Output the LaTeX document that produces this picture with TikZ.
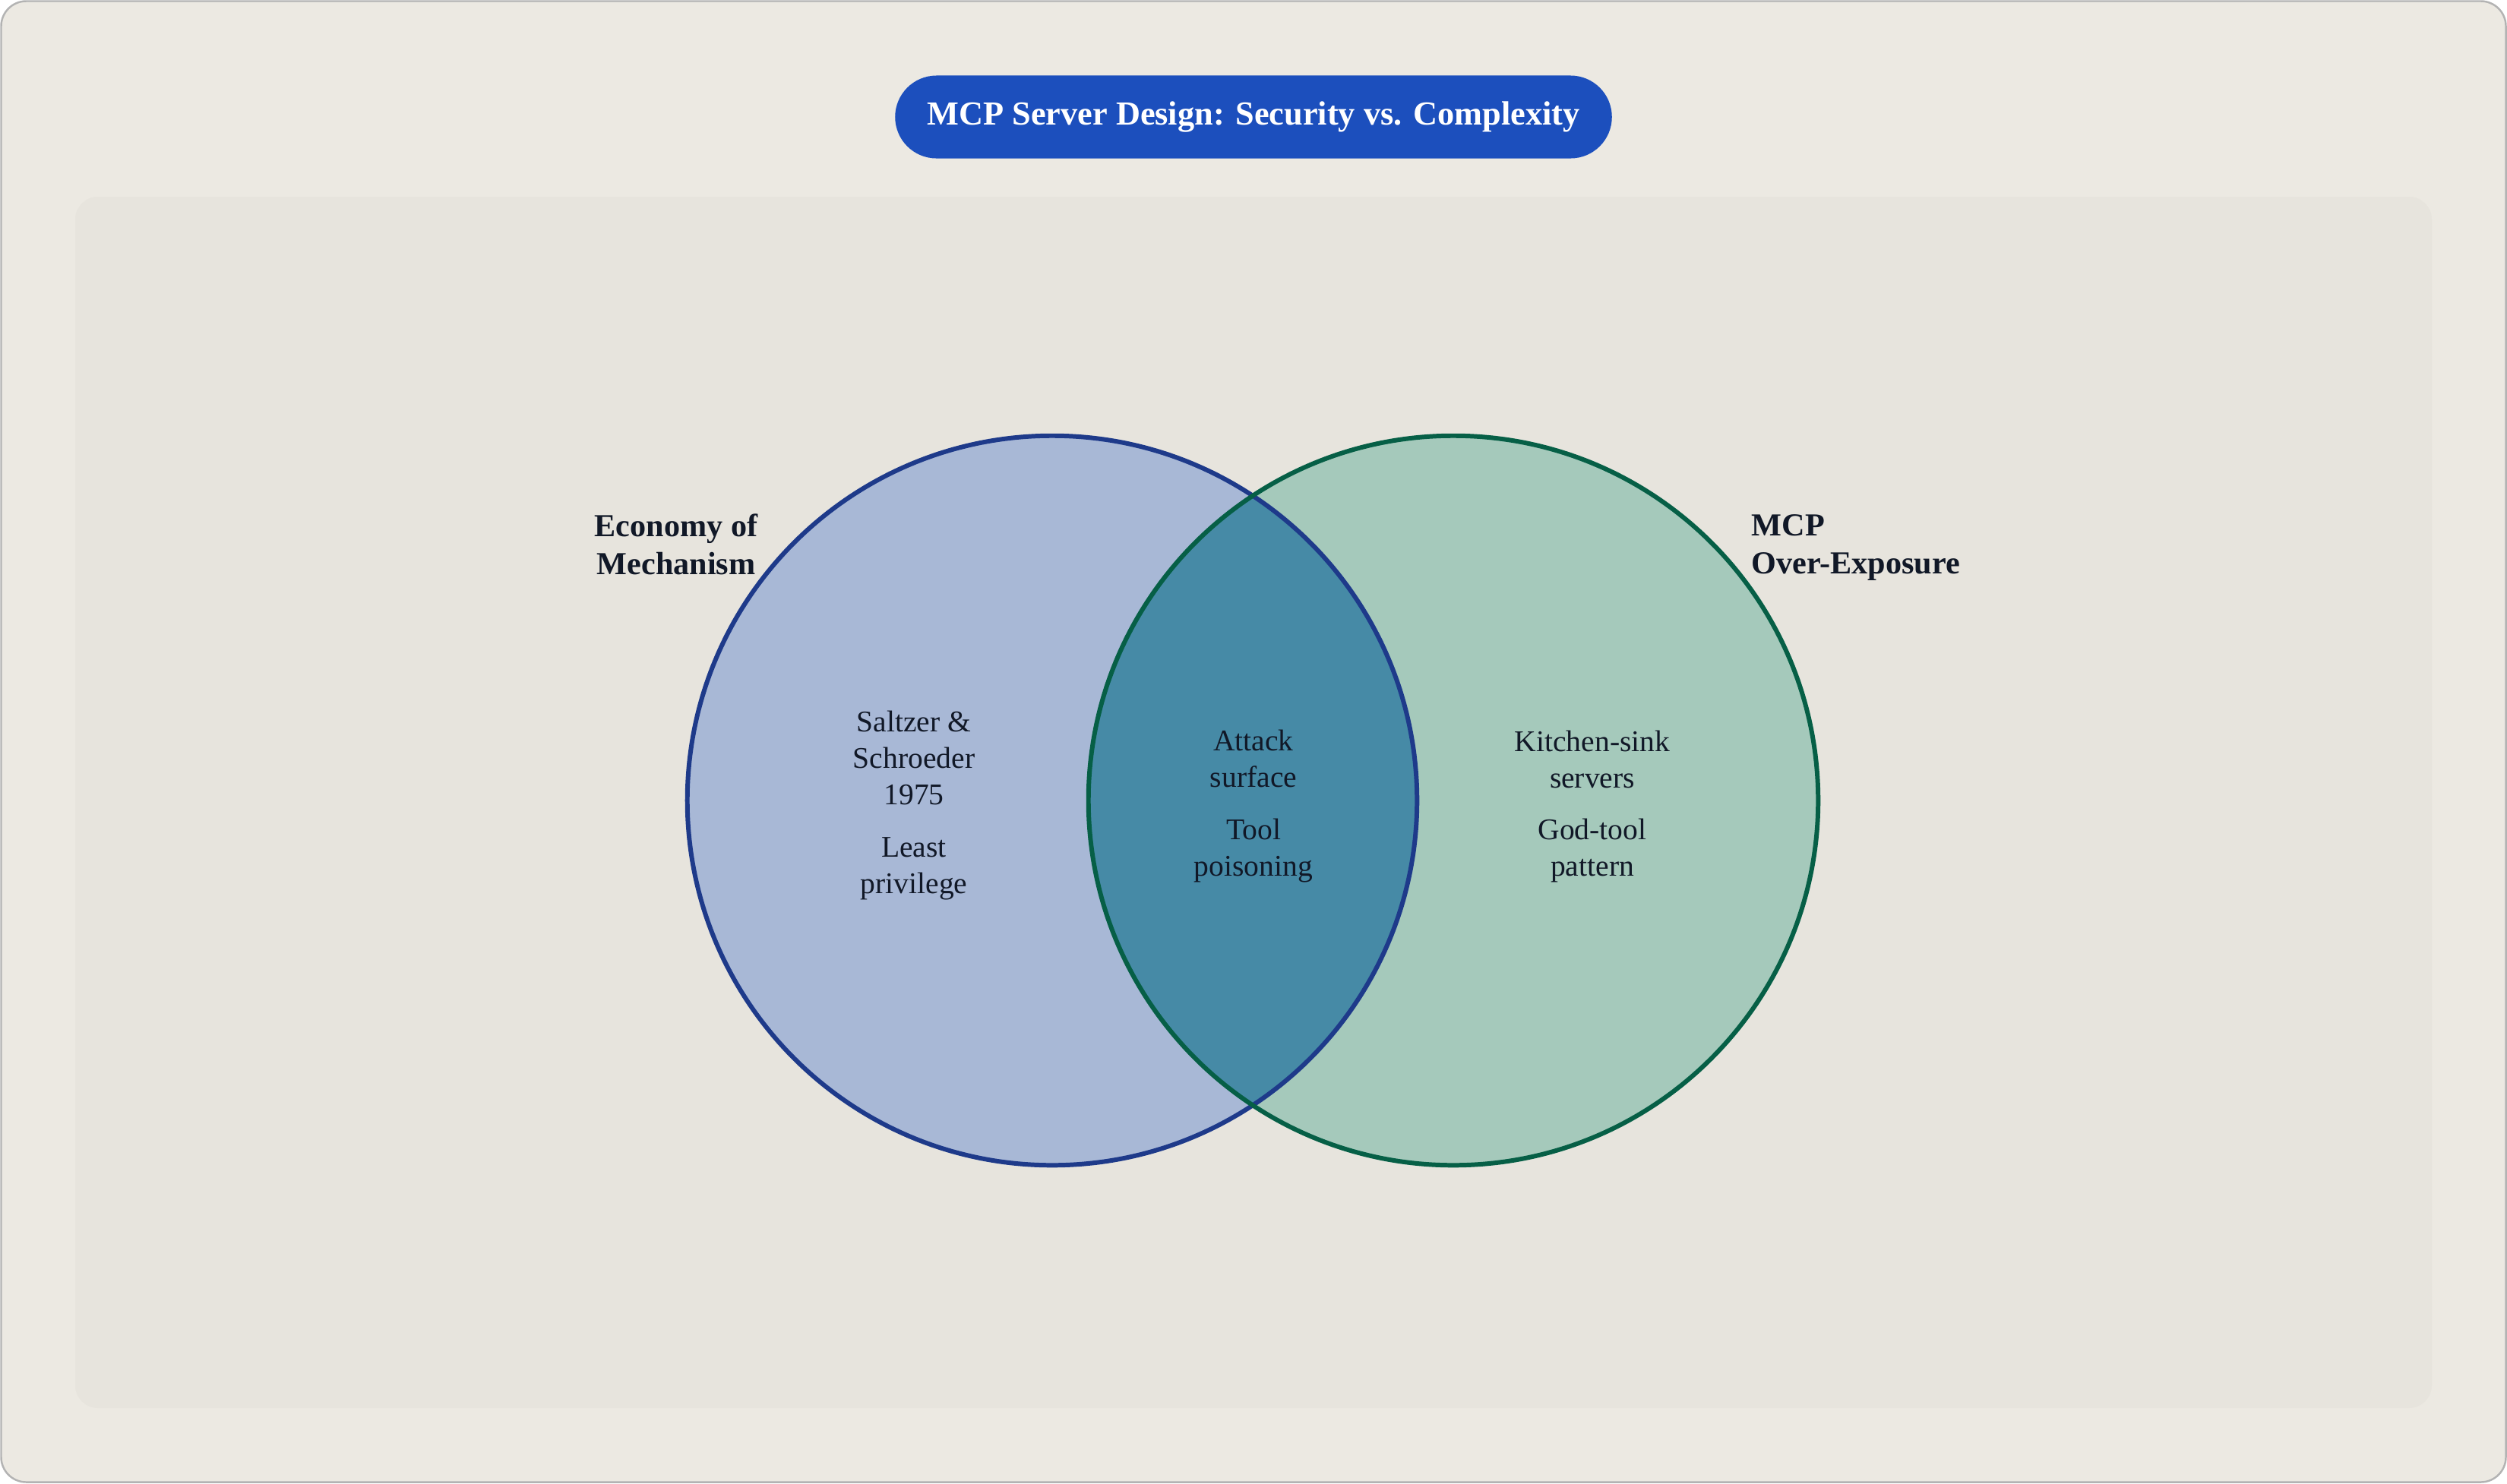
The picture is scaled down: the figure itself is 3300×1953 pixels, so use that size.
\documentclass[tikz,border=0pt]{standalone}
\usepackage{fontspec}
\setmainfont{Liberation Serif}

\definecolor{paper}{HTML}{ECE9E2}
\definecolor{panel}{HTML}{E7E4DD}
\definecolor{frame}{HTML}{B3B3B3}
\definecolor{pillblue}{HTML}{1C4FBD}
\definecolor{inkdark}{HTML}{111827}
\definecolor{econfill}{HTML}{A8B8D6}
\definecolor{econline}{HTML}{1E3A8A}
\definecolor{mcpfill}{HTML}{A5C9BB}
\definecolor{mcpline}{HTML}{065F46}
\definecolor{overlapfill}{HTML}{468AA6}

\tikzset{
  titlepill/.style={fill=pillblue, text=white, inner sep=0pt,
    minimum width=9.43cm, minimum height=1.09cm, rounded corners=0.545cm,
    font=\fontsize{12.6}{15}\selectfont\bfseries},
  setlabel/.style={font=\fontsize{12}{14.2}\selectfont\bfseries, text=inkdark, inner sep=0pt},
  region/.style={font=\fontsize{11.25}{13.7}\selectfont, text=inkdark, align=center, inner sep=0pt},
  setline/.style={line width=1.7pt},
}

\begin{document}
\begin{tikzpicture}[x=0.01cm,y=-0.01cm]
    \useasboundingbox (0,0) rectangle (3300,1953);

    % Background
    \draw[fill=paper, draw=frame, line width=0.7pt, rounded corners=0.33cm] (1.5,1.5) rectangle (3298.5,1951.5);
    \fill[panel, rounded corners=0.3cm] (99,259) rectangle (3201,1854);

    % Title
    \node[titlepill] (title) at (1650,154) {MCP Server Design: Security vs. Complexity};

    % Circles
    \coordinate (econ) at (1385,1054);
    \coordinate (mcp) at (1913,1054);
    \fill[econfill] (econ) circle[radius=4.8cm];
    \fill[mcpfill] (mcp) circle[radius=4.8cm];
    \begin{scope}
        \clip (econ) circle[radius=4.8cm];
        \fill[overlapfill] (mcp) circle[radius=4.8cm];
    \end{scope}
    \draw[setline, econline] (econ) circle[radius=4.8cm];
    \draw[setline, mcpline] (mcp) circle[radius=4.8cm];

    % Set names
    \node[setlabel, align=center] (econlabel) at (890,717) {Economy of\\Mechanism};
    \node[setlabel, align=left, anchor=west] (mcplabel) at (2305,721) {MCP\\Over-Exposure};

    % Left only
    \node[region] (founders) at (1203,998) {Saltzer \&\\Schroeder\\1975};
    \node[region] (leastpriv) at (1203,1144) {Least\\privilege};

    % Overlap
    \node[region] (attack) at (1650,999) {Attack\\surface};
    \node[region] (poison) at (1650,1120) {Tool\\poisoning};

    % Right only
    \node[region] (kitchen) at (2096,1000) {Kitchen-sink\\servers};
    \node[region] (godtool) at (2096,1120) {God-tool\\pattern};
\end{tikzpicture}
\end{document}
